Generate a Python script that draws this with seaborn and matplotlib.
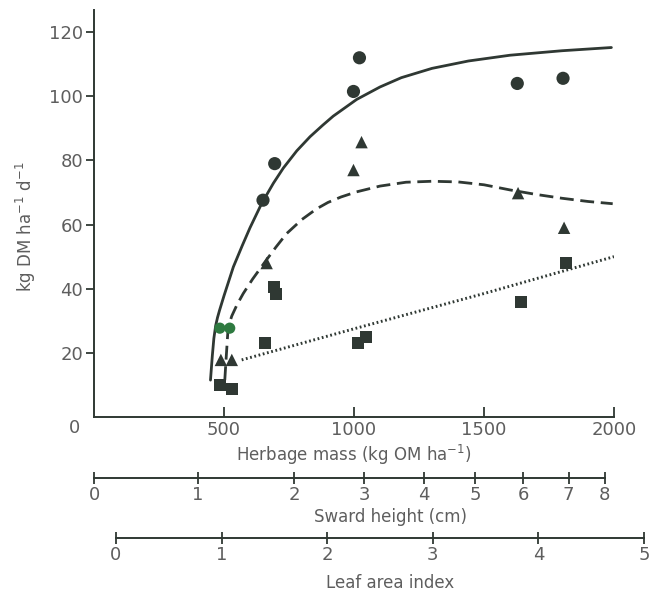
import matplotlib
matplotlib.use('Agg')  # no display
import matplotlib.pyplot as plt
import seaborn as sns
import pandas as pd

# observed points (herbage mass kg OM/ha, growth kg DM/ha/d)
circle_x = [484, 522, 650, 695, 998, 1021, 1628, 1804]
circle_y = [27.7, 27.7, 67.6, 79, 101.5, 112, 104, 105.6]
circle_green = [True, True, False, False, False, False, False, False]
tri_x = [488, 530, 664, 998, 1029, 1631, 1808]
tri_y = [17.8, 17.8, 48, 77, 85.7, 69.8, 59]
sq_x = [484, 530, 656, 693, 700, 1017, 1048, 1643, 1816]
sq_y = [10, 8.7, 23, 40.5, 38.5, 23, 25, 35.8, 48]

# fitted curves
solid_x = [448, 455, 461, 468, 475, 483, 500, 536, 570, 600, 645, 690, 728, 780, 831,
           880, 920, 1010, 1100, 1182, 1300, 1440, 1600, 1800, 1990]
solid_y = [11.5, 19, 24.5, 28.5, 31, 33.3, 37.8, 46.8, 53.4, 59, 66.6, 72.9, 77.6, 83,
           87.4, 91, 93.8, 99, 102.9, 105.8, 108.7, 111, 112.8, 114.2, 115.2]
dash_x = [503, 508, 512, 516, 530, 550, 574, 610, 658, 700, 741, 800, 856, 900, 950,
          1010, 1100, 1200, 1300, 1400, 1500, 1600, 1700, 1800, 1900, 1995]
dash_y = [11.5, 18, 23, 28, 31.5, 35, 38.5, 43, 48.4, 53, 57.2, 61.6, 64.9, 66.9, 68.6,
          70.2, 72, 73.2, 73.5, 73.3, 72.4, 70.8, 69.4, 68.2, 67.2, 66.5]
dot_x = [568, 1000, 1500, 2000]
dot_y = [17.8, 27.5, 38.5, 50]

# secondary scales
sward_ticks = [0, 1, 2, 3, 4, 5, 6, 7, 8]
sward_at_mass = [0, 400, 770, 1040, 1270, 1465, 1650, 1825, 1965]
lai_ticks = [0, 1, 2, 3, 4, 5]

ink = '#2f3833'
txt = '#5e5e5e'
green = '#2e7a40'

sns.set_theme(style='ticks')
plt.rcParams['font.family'] = ['DejaVu Sans']

W, H = 649, 596
def box(l, t, r, b):
    return [l / W, 1 - b / H, (r - l) / W, (b - t) / H]

fig = plt.figure(figsize=(W / 100, H / 100), dpi=100)
fig.patch.set_facecolor('white')

ax = fig.add_axes(box(94, 10, 614, 417))
ax.set_facecolor('none')

sns.lineplot(x=solid_x, y=solid_y, ax=ax, color=ink, lw=2.0, sort=False, estimator=None)
sns.lineplot(x=dash_x, y=dash_y, ax=ax, color=ink, lw=2.0, sort=False, estimator=None)
ax.lines[-1].set_dashes([5, 2.4])
sns.lineplot(x=dot_x, y=dot_y, ax=ax, color=ink, lw=2.1, sort=False, estimator=None)
ax.lines[-1].set_dashes([0.6, 0.9])

circles = pd.DataFrame({'x': circle_x, 'y': circle_y, 'g': circle_green})
sns.scatterplot(data=circles[~circles.g], x='x', y='y', ax=ax, marker='o', s=90,
                color=ink, edgecolor='none', zorder=3)
sns.scatterplot(data=circles[circles.g], x='x', y='y', ax=ax, marker='o', s=65,
                color=green, edgecolor='none', zorder=3)
sns.scatterplot(x=tri_x, y=tri_y, ax=ax, marker='^', s=80, color=ink, edgecolor='none', zorder=3)
sns.scatterplot(x=sq_x, y=sq_y, ax=ax, marker='s', s=75, color=ink, edgecolor='none', zorder=3)

ax.set_xlim(0, 2000)
ax.set_ylim(0, 126.9)
ax.set_xticks([500, 1000, 1500, 2000])
ax.set_yticks([20, 40, 60, 80, 100, 120])
ax.set_xlabel('')
ax.set_ylabel('')
sns.despine(ax=ax)
for s in ['left', 'bottom']:
    ax.spines[s].set_color(ink)
    ax.spines[s].set_linewidth(1.4)
ax.tick_params(axis='y', direction='out', length=6, width=1.3, color=ink,
               labelcolor=txt, labelsize=13, pad=2)
ax.tick_params(axis='x', direction='in', length=7, width=1.3, color=ink,
               labelcolor=txt, labelsize=13, pad=3)
ax.text(75 / W, 1 - 428 / H, '0', transform=fig.transFigure, ha='center', va='center',
        color=txt, fontsize=13)


def scale_axis(rect, lim, ticks, labels):
    a = fig.add_axes(rect)
    a.set_facecolor('none')
    a.set_xlim(*lim)
    a.set_ylim(0, 1)
    a.set_yticks([])
    a.set_xticks(ticks)
    a.set_xticklabels(labels)
    for s in ['left', 'right', 'top']:
        a.spines[s].set_visible(False)
    a.spines['bottom'].set_color(ink)
    a.spines['bottom'].set_linewidth(1.4)
    a.spines['bottom'].set_bounds(ticks[0], ticks[-1])
    a.tick_params(axis='x', direction='inout', length=9, width=1.3, color=ink,
                  labelcolor=txt, labelsize=13, pad=1)
    return a

scale_axis(box(94, 440, 614, 478), (0, 2000), sward_at_mass, [str(t) for t in sward_ticks])
scale_axis(box(116, 500, 644, 538), (0, 5), lai_ticks, [str(t) for t in lai_ticks])

fig.text(354 / W, 1 - 455 / H, 'Herbage mass (kg OM ha$^{-1}$)', ha='center', va='center',
         color=txt, fontsize=12)
fig.text(391 / W, 1 - 517 / H, 'Sward height (cm)', ha='center', va='center',
         color=txt, fontsize=12)
fig.text(390 / W, 1 - 583 / H, 'Leaf area index', ha='center', va='center',
         color=txt, fontsize=12)
fig.text(26 / W, 1 - 227 / H, 'kg DM ha$^{-1}$ d$^{-1}$', ha='center', va='center',
         rotation=90, color=txt, fontsize=12)

fig.savefig('out.png', dpi=100)
